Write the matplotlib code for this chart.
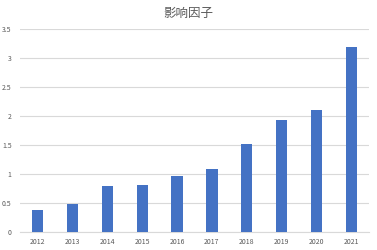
import matplotlib
matplotlib.use("Agg")
import matplotlib.pyplot as plt

plt.rcParams['font.family'] = ['Noto Sans CJK SC', 'DejaVu Sans']

years = ['2012', '2013', '2014', '2015', '2016', '2017', '2018', '2019', '2020', '2021']
values = [0.38, 0.48, 0.80, 0.82, 0.96, 1.08, 1.52, 1.93, 2.11, 3.19]
yticks = [0, 0.5, 1, 1.5, 2, 2.5, 3, 3.5]
ytick_labels = ['0', '0.5', '1', '1.5', '2', '2.5', '3', '3.5']
title = '影响因子'

fig = plt.figure(figsize=(3.77, 2.5), dpi=100)
ax = fig.add_axes([20/377, 1-232/250, 349/377, (232-29.3)/250])
x = list(range(len(years)))
ax.bar(x, values, width=0.32, color='#4472C4', zorder=3)
ax.set_xlim(-0.5, len(years) - 0.5)
ax.set_ylim(0, 3.5)
ax.set_yticks(yticks)
ax.set_yticklabels(ytick_labels)
ax.set_xticks(x)
ax.set_xticklabels(years)
ax.grid(axis='y', color='#D9D9D9', linewidth=0.8, zorder=0)
for s in ['top', 'right', 'left']:
    ax.spines[s].set_visible(False)
ax.spines['bottom'].set_color('#D9D9D9')
ax.spines['bottom'].set_linewidth(0.8)
ax.tick_params(axis='both', length=0, labelsize=5, labelcolor='#595959')
ax.tick_params(axis='y', pad=6)
ax.tick_params(axis='x', pad=4)
fig.text(188/377, 1-13/250, title, ha='center', va='center', fontsize=9, color='#595959')
fig.savefig('out.png', dpi=100)
